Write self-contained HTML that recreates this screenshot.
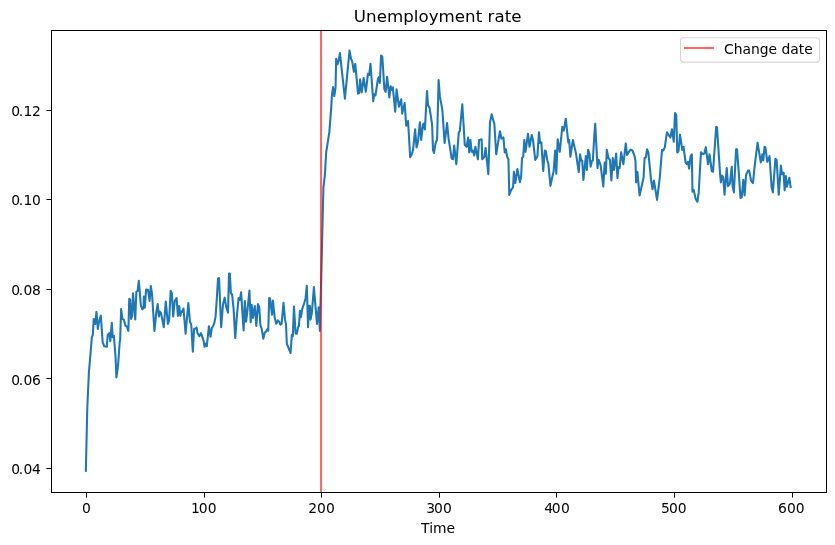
<!DOCTYPE html>
<html><head><meta charset="utf-8"><title>Unemployment rate</title>
<style>
html,body{margin:0;padding:0;background:#fff;overflow:hidden;}
svg{display:block;}
text{font-family:"DejaVu Sans","Liberation Sans",sans-serif;fill:#000;}
</style></head><body>
<svg width="835" height="545" viewBox="0 0 835 545">
<rect x="0" y="0" width="835" height="545" fill="#ffffff"/>
<clipPath id="ax"><rect x="51.5" y="30.5" width="775.0" height="462.0"/></clipPath>
<g clip-path="url(#ax)">
<path d="M85.86 470.85 L87.23 410.00 L87.73 397.96 L88.98 371.15 L89.98 359.93 L91.22 344.96 L91.85 337.48 L92.84 334.99 L93.72 319.02 L94.71 319.64 L95.21 324.00 L96.46 311.91 L97.83 328.99 L98.95 322.13 L100.82 315.65 L102.69 342.47 L104.31 346.21 L106.81 346.83 L107.68 334.99 L109.30 333.12 L110.30 341.22 L111.80 322.76 L112.67 337.10 L113.92 335.85 L115.54 356.81 L116.41 377.38 L118.03 366.16 L119.65 342.47 L120.15 339.59 L121.15 309.04 L122.39 319.02 L123.89 319.64 L125.51 325.88 L126.76 326.50 L128.38 330.86 L129.25 298.69 L130.12 299.69 L131.12 319.02 L132.12 315.90 L132.99 293.21 L135.24 319.39 L136.36 291.59 L137.61 290.96 L138.85 280.74 L140.85 305.30 L142.34 309.42 L143.59 307.80 L143.84 296.57 L144.84 307.80 L146.08 289.47 L147.96 289.72 L149.58 300.94 L150.82 285.98 L152.07 294.70 L154.44 330.86 L156.31 312.16 L157.68 304.05 L158.93 316.52 L159.80 311.54 L161.05 313.41 L163.79 327.12 L165.79 301.56 L167.91 324.00 L169.15 320.26 L170.65 290.71 L171.90 293.46 L173.14 316.52 L174.76 300.94 L176.63 298.19 L177.88 315.90 L179.13 305.93 L180.37 315.90 L181.25 311.64 L182.24 311.64 L183.49 308.52 L185.61 333.69 L188.35 303.16 L189.98 321.62 L191.22 324.73 L192.84 351.77 L194.09 328.70 L195.59 328.45 L196.58 327.46 L197.46 333.07 L199.33 336.18 L200.95 333.07 L202.44 337.43 L203.69 341.17 L204.56 346.78 L205.56 343.67 L206.81 346.16 L208.93 326.21 L210.55 336.81 L211.80 328.08 L213.04 326.21 L214.29 323.09 L215.54 316.86 L216.78 299.17 L218.03 278.60 L219.03 277.98 L221.15 327.23 L223.02 304.16 L224.64 297.68 L226.13 306.65 L228.00 312.64 L229.00 273.61 L229.88 273.61 L230.87 292.94 L232.12 294.81 L233.62 309.15 L235.24 338.05 L236.73 317.88 L238.60 297.93 L239.85 299.80 L241.10 292.31 L243.59 330.34 L244.84 301.04 L246.08 321.62 L247.33 311.64 L249.45 290.44 L250.70 322.24 L251.70 304.78 L252.94 317.88 L254.81 306.03 L256.31 325.98 L257.93 304.16 L259.18 306.65 L260.42 325.36 L261.67 328.70 L263.29 338.68 L264.79 332.44 L266.03 331.82 L267.28 329.33 L268.28 330.57 L269.15 297.93 L270.02 298.55 L272.02 314.76 L272.89 300.42 L274.76 317.88 L276.26 323.86 L277.88 320.37 L279.13 321.62 L280.37 324.73 L281.62 323.49 L283.49 302.81 L284.99 319.64 L285.99 324.00 L286.83 343.64 L290.57 352.99 L291.82 334.91 L292.82 336.16 L293.97 306.55 L295.59 333.36 L296.83 333.61 L298.08 327.12 L298.95 325.88 L299.95 310.91 L300.95 317.15 L302.19 309.04 L304.31 302.81 L305.56 298.44 L306.81 285.73 L308.05 327.12 L308.93 305.68 L309.93 305.93 L310.55 319.64 L311.80 313.41 L313.92 286.97 L315.54 307.17 L317.03 324.00 L318.65 307.17 L319.90 330.86 L323.42 187.41 L324.91 174.94 L326.16 152.49 L329.30 132.39 L331.17 108.70 L331.82 96.11 L333.07 87.13 L334.31 96.11 L335.56 87.38 L336.18 58.70 L337.43 64.31 L338.68 60.57 L339.93 53.09 L344.91 98.60 L349.53 50.60 L351.15 59.33 L352.14 61.20 L353.89 71.80 L355.26 63.69 L358.00 93.62 L359.25 92.99 L360.12 79.28 L361.75 92.37 L363.62 78.03 L365.86 91.75 L367.98 73.67 L369.23 74.91 L370.47 63.69 L373.22 101.10 L374.21 94.24 L375.46 95.49 L377.96 78.65 L379.20 76.78 L379.83 83.02 L381.07 55.59 L382.32 56.83 L384.36 89.30 L385.61 91.80 L387.11 76.83 L389.35 97.41 L390.60 86.18 L391.85 89.93 L392.84 87.43 L395.21 111.75 L396.58 89.30 L398.95 106.76 L401.20 99.28 L402.19 113.62 L404.69 103.02 L406.18 125.59 L408.05 120.97 L410.17 157.13 L411.80 154.26 L413.04 149.90 L415.16 129.33 L416.53 147.41 L418.03 141.17 L419.90 122.22 L421.15 139.93 L423.02 124.34 L423.89 123.72 L424.89 129.33 L427.01 90.92 L428.00 104.89 L429.63 108.00 L432.12 124.96 L432.99 149.90 L433.99 153.02 L435.49 143.67 L437.11 139.30 L438.60 79.95 L439.85 96.16 L442.34 109.88 L444.59 143.04 L447.08 123.09 L448.58 138.68 L451.70 158.63 L452.94 159.25 L454.19 145.54 L456.31 164.24 L458.80 132.44 L459.80 131.20 L462.29 104.26 L464.79 144.91 L466.66 146.78 L468.15 137.43 L469.15 152.39 L470.40 139.93 L471.65 151.77 L472.89 150.52 L474.14 155.51 L475.39 146.78 L477.88 159.25 L479.13 139.93 L481.62 139.30 L482.24 159.25 L484.36 156.76 L485.61 148.03 L488.35 174.21 L489.98 122.47 L491.60 114.36 L494.34 123.72 L496.21 154.26 L499.95 131.20 L501.45 138.68 L503.44 137.43 L504.69 152.39 L505.81 149.28 L507.18 156.76 L508.43 159.25 L509.30 194.89 L511.17 189.90 L513.04 187.41 L513.92 171.82 L515.29 183.04 L517.41 168.95 L519.90 182.17 L521.15 176.18 L522.02 158.00 L523.27 156.76 L524.26 139.93 L525.51 151.77 L528.00 133.69 L529.50 146.78 L531.75 134.94 L532.99 139.93 L535.24 159.88 L537.36 156.76 L538.98 132.19 L540.10 143.04 L541.35 142.42 L543.22 170.85 L544.84 150.52 L545.84 151.15 L547.33 160.50 L548.33 163.62 L550.45 185.91 L552.32 176.81 L553.57 171.82 L555.19 150.52 L556.31 173.59 L557.68 139.30 L559.80 151.77 L562.29 126.83 L563.79 130.57 L565.79 118.73 L568.28 142.42 L569.15 139.93 L570.40 156.76 L572.89 139.93 L576.01 153.64 L578.75 172.09 L580.00 154.26 L581.25 160.50 L582.24 160.50 L583.37 179.93 L585.86 156.13 L586.86 169.85 L588.10 149.90 L589.35 153.02 L590.60 166.73 L591.85 161.12 L592.84 160.50 L594.34 134.94 L595.21 123.72 L596.46 147.41 L597.46 167.98 L598.70 159.88 L600.57 164.86 L603.32 186.53 L604.69 162.47 L605.81 173.69 L606.81 149.90 L608.43 158.00 L609.93 159.88 L611.42 180.55 L612.79 158.00 L614.04 169.85 L616.16 153.64 L617.41 178.05 L618.65 167.36 L619.65 167.98 L621.15 152.39 L623.39 164.24 L625.76 143.42 L627.01 154.89 L628.63 152.39 L630.50 149.65 L632.37 150.52 L634.24 154.89 L635.49 161.12 L636.11 182.42 L637.36 171.82 L639.60 195.51 L642.34 183.04 L643.59 177.43 L644.59 158.00 L645.84 157.38 L647.08 149.28 L648.33 152.39 L651.07 179.93 L652.57 189.28 L653.94 180.55 L657.06 199.88 L659.80 177.43 L662.04 149.90 L663.29 150.52 L664.79 147.41 L666.91 132.19 L669.78 136.81 L670.40 137.43 L671.90 129.33 L673.77 141.80 L675.01 113.12 L676.26 114.99 L677.26 152.39 L678.50 151.15 L680.00 134.69 L682.24 149.90 L683.49 146.78 L685.61 162.37 L686.86 164.24 L688.10 161.75 L689.10 168.60 L690.60 156.13 L691.85 154.26 L692.47 191.77 L693.72 189.90 L695.59 198.63 L697.46 201.75 L698.70 192.39 L700.95 152.39 L703.07 154.26 L704.31 153.64 L705.81 147.16 L708.05 164.24 L709.55 154.26 L711.80 171.10 L713.04 171.72 L716.16 126.83 L717.03 127.46 L720.15 174.84 L720.90 182.42 L722.02 175.56 L723.27 177.43 L724.51 194.64 L726.76 168.08 L728.00 186.16 L729.88 183.67 L731.75 166.83 L732.62 186.16 L733.87 192.39 L736.11 149.28 L736.98 149.28 L738.60 169.85 L740.47 198.00 L741.72 197.38 L743.34 179.68 L744.59 195.51 L746.08 174.94 L747.96 170.57 L749.20 170.57 L751.07 180.55 L752.94 183.04 L754.81 164.86 L757.56 142.67 L760.80 162.37 L762.29 154.26 L763.29 160.50 L764.54 146.78 L765.41 147.41 L767.28 161.75 L769.53 156.13 L771.65 187.41 L772.89 192.39 L775.39 158.73 L776.63 159.98 L778.75 194.64 L780.88 165.56 L782.12 174.29 L783.62 172.67 L784.62 190.25 L785.86 176.16 L786.86 186.76 L789.35 177.78 L790.60 187.01" fill="none" stroke="#1f77b4" stroke-width="2.08" stroke-linejoin="round" stroke-linecap="square"/>
<line x1="321.03" y1="30.5" x2="321.03" y2="492.5" stroke="#ff0000" stroke-opacity="0.6" stroke-width="2.08"/>
</g>
<rect x="51.5" y="30.5" width="775.0" height="462.0" fill="none" stroke="#000" stroke-width="1.11" shape-rendering="crispEdges"/>

<g fill="#000">
<rect x="86.0" y="492.5" width="1" height="5.1"/>
<rect x="204.0" y="492.5" width="1" height="5.1"/>
<rect x="321.0" y="492.5" width="1" height="5.1"/>
<rect x="439.0" y="492.5" width="1" height="5.1"/>
<rect x="556.0" y="492.5" width="1" height="5.1"/>
<rect x="674.0" y="492.5" width="1" height="5.1"/>
<rect x="792.0" y="492.5" width="1" height="5.1"/>
<rect x="46.4" y="468.0" width="5" height="1"/>
<rect x="46.4" y="378.0" width="5" height="1"/>
<rect x="46.4" y="289.0" width="5" height="1"/>
<rect x="46.4" y="199.0" width="5" height="1"/>
<rect x="46.4" y="110.0" width="5" height="1"/>
</g>
<g font-size="13.89">
<text x="86.5" y="512.72" text-anchor="middle">0</text>
<text x="191.10" y="512.72" dx="0 -1.24 0.26">100</text>
<text x="308.20" y="512.72" dx="0 -0.02 0.1">200</text>
<text x="426.30" y="512.72" dx="0 -1.2 0.21">300</text>
<text x="544.30" y="512.72" dx="0 -1.28 0.21">400</text>
<text x="661.00" y="512.72" dx="0 -0.9 0.1">500</text>
<text x="778.00" y="512.72" dx="0 0.06 0.0">600</text>
<text x="40.78" y="473.70" text-anchor="end" dx="0 -1.25 0.15 -0.3">0.04</text>
<text x="40.78" y="384.70" text-anchor="end" dx="0 -1.25 0.15 -0.3">0.06</text>
<text x="40.78" y="294.70" text-anchor="end" dx="0 -1.25 0.15 -0.3">0.08</text>
<text x="40.78" y="204.70" text-anchor="end" dx="0 -1.25 0.15 -0.3">0.10</text>
<text x="40.78" y="115.70" text-anchor="end" dx="0 -1.25 0.15 -0.3">0.12</text>
<text x="439.0" y="532.75" dx="-0.9" text-anchor="middle">Time</text>
</g>
<text x="439.0" y="22.1" text-anchor="middle" font-size="16.67" dx="-1.3" letter-spacing="0.03">Unemployment rate</text>
<g>
<rect x="680.6" y="37.7" width="139" height="24.4" rx="2.8" ry="2.8" fill="#fff" fill-opacity="0.8" stroke="#cccccc" stroke-opacity="0.8" stroke-width="1.11"/>
<line x1="683.9" y1="48" x2="714.0" y2="48" stroke="#ff0000" stroke-opacity="0.6" stroke-width="2.08"/>
<text x="724.0" y="53.7" font-size="13.89">Change date</text>
</g>
</svg></body></html>
